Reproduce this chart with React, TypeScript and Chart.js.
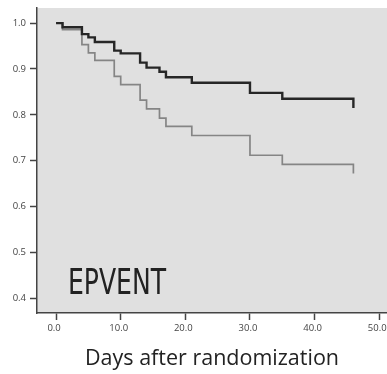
import React, { useEffect, useRef } from "react";
import { Chart, registerables } from "chart.js";

Chart.register(...registerables);

// Follow-up time (days) at each step of the survival curves
const days = [0, 1, 4, 5, 6, 9, 10, 13, 14, 16, 17, 21, 30, 35, 46];
// Cumulative event-free proportion, darker group
const survivalA = [1.0, 0.991, 0.976, 0.969, 0.959, 0.94, 0.934, 0.914, 0.903, 0.894, 0.882, 0.87, 0.848, 0.835, 0.815];
// Cumulative event-free proportion, lighter group
const survivalB = [1.0, 0.986, 0.953, 0.935, 0.919, 0.884, 0.866, 0.832, 0.813, 0.793, 0.775, 0.755, 0.712, 0.692, 0.672];

const xTicks = [0, 10, 20, 30, 40, 50];
const yTicks = [0.4, 0.5, 0.6, 0.7, 0.8, 0.9, 1.0];
const xTitle = "Days after randomization";
const panelLabel = "EPVENT";

const W = 387;
const H = 374;

const plotBackground = {
  id: "plotBackground",
  beforeDraw(chart: any) {
    const { ctx, chartArea } = chart;
    ctx.save();
    ctx.fillStyle = "#e0e0e0";
    ctx.fillRect(chartArea.left, chartArea.top, chartArea.right - chartArea.left, chartArea.bottom - chartArea.top);
    ctx.restore();
  },
};

const panelText = {
  id: "panelText",
  afterDatasetsDraw(chart: any) {
    const { ctx } = chart;
    ctx.save();
    ctx.fillStyle = "#222222";
    ctx.font = '36px "Liberation Sans Narrow", "DejaVu Sans Condensed", sans-serif';
    ctx.textAlign = "left";
    ctx.textBaseline = "alphabetic";
    ctx.fillText(panelLabel, 68, 294, 98);
    ctx.restore();
  },
};

export default function App() {
  const canvasRef = useRef<HTMLCanvasElement | null>(null);

  useEffect(() => {
    if (!canvasRef.current) return;
    const tickFont = { family: '"Open Sans", sans-serif', size: 9.5 };
    const chart = new Chart(canvasRef.current, {
      type: "line",
      data: {
        datasets: [
          {
            label: "A",
            data: days.map((d, i) => ({ x: d, y: survivalA[i] })),
            borderColor: "#262626",
            borderWidth: 2.4,
            stepped: "before",
            pointRadius: 0,
            fill: false,
          },
          {
            label: "B",
            data: days.map((d, i) => ({ x: d, y: survivalB[i] })),
            borderColor: "#858585",
            borderWidth: 1.7,
            stepped: "before",
            pointRadius: 0,
            fill: false,
          },
        ],
      },
      options: {
        responsive: false,
        animation: false,
        layout: { padding: { top: 8, right: 0, bottom: 0, left: 0 } },
        plugins: {
          legend: { display: false },
          tooltip: { enabled: false },
        },
        scales: {
          x: {
            type: "linear",
            min: -2.95,
            max: 51.2,
            afterBuildTicks(scale: any) {
              scale.ticks = xTicks.map((v) => ({ value: v }));
            },
            afterFit(scale: any) {
              scale.height = H - 313;
              scale.paddingLeft = 0;
              scale.paddingRight = 0;
            },
            grid: {
              drawOnChartArea: false,
              drawTicks: true,
              tickLength: 7,
              tickColor: "#444444",
              tickWidth: 1.5,
            },
            border: { display: true, color: "#444444", width: 1.5 },
            ticks: {
              font: tickFont,
              color: "#444444",
              padding: 3,
              labelOffset: -2,
              maxRotation: 0,
              callback: (v: any) => Number(v).toFixed(1),
            },
            title: {
              display: true,
              text: xTitle,
              font: { family: '"Open Sans", sans-serif', size: 21.5 },
              color: "#222222",
              padding: { top: 0, bottom: 2 },
            },
          },
          y: {
            type: "linear",
            min: 0.368,
            max: 1.033,
            afterBuildTicks(scale: any) {
              scale.ticks = yTicks.map((v) => ({ value: v }));
            },
            afterFit(scale: any) {
              scale.width = 37;
              scale.paddingTop = 0;
              scale.paddingBottom = 0;
            },
            grid: {
              drawOnChartArea: false,
              drawTicks: true,
              tickLength: 7,
              tickColor: "#444444",
              tickWidth: 1.5,
            },
            border: { display: true, color: "#444444", width: 1.5 },
            ticks: {
              font: tickFont,
              color: "#444444",
              padding: 4,
              callback: (v: any) => Number(v).toFixed(1),
            },
          },
        },
      },
      plugins: [plotBackground, panelText],
    });
    return () => chart.destroy();
  }, []);

  return (
    <div style={{ position: "absolute", left: 0, top: 0, width: W, height: H, background: "#ffffff" }}>
      <canvas ref={canvasRef} width={W} height={H} style={{ width: W, height: H, display: "block" }} />
    </div>
  );
}
